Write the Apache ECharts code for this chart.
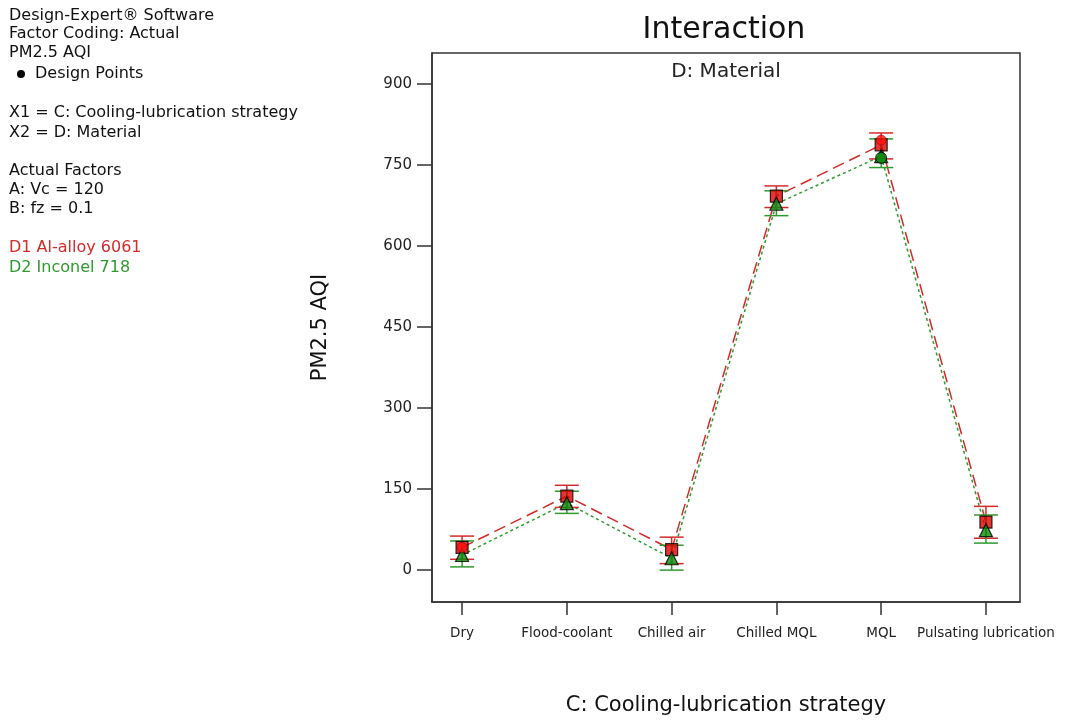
<!DOCTYPE html>
<html><head><meta charset="utf-8">
<script src="https://cdn.jsdelivr.net/npm/echarts@6/dist/echarts.min.js"></script>
<style>html,body{margin:0;padding:0;background:#fff}#c{width:1065px;height:721px}</style>
</head><body><div id="c"></div>
<script>
const categories = ["Dry", "Flood-coolant", "Chilled air", "Chilled MQL", "MQL", "Pulsating lubrication"];
const yTicks = [0, 150, 300, 450, 600, 750, 900];
// D1 Al-alloy 6061 (predicted means and interval bounds)
const d1Mean = [42, 137, 38, 692, 787, 89];
const d1Low  = [20, 116, 12, 671, 761, 59];
const d1High = [63, 157, 61, 711, 809, 118];
// D2 Inconel 718
const d2Mean = [28, 124, 22, 678, 766, 74];
const d2Low  = [6, 105, 0, 656, 745, 50];
const d2High = [54, 146, 46, 702, 798, 102];
// design points (category index, value)
const d1Design = [[0, 42], [4, 796]];
const d2Design = [[4, 763]];

const RED = '#d42a2a', GREEN = '#2f9a2f';
const FONT = '"DejaVu Sans", "Liberation Sans", Arial, sans-serif';
const toXY = arr => arr.map((v, i) => [i, v]);
const toBars = (lo, hi) => lo.map((v, i) => [i, v, hi[i]]);

function errRender(color) {
  return function (params, api) {
    const x = api.value(0);
    const p1 = api.coord([x, api.value(1)]);
    const p2 = api.coord([x, api.value(2)]);
    const hw = 12;
    const st = { stroke: color, lineWidth: 1.5 };
    return { type: 'group', children: [
      { type: 'line', shape: { x1: p1[0], y1: p1[1], x2: p2[0], y2: p2[1] }, style: st },
      { type: 'line', shape: { x1: p1[0] - hw, y1: p1[1], x2: p1[0] + hw, y2: p1[1] }, style: st },
      { type: 'line', shape: { x1: p2[0] - hw, y1: p2[1], x2: p2[0] + hw, y2: p2[1] }, style: st }
    ]};
  };
}

const leftLines = [
  ['Design-Expert® Software', 16, '#111', 9],
  ['Factor Coding: Actual', 34, '#111', 9],
  ['PM2.5 AQI', 53, '#111', 9],
  ['Design Points', 74, '#111', 35],
  ['X1 = C: Cooling-lubrication strategy', 113, '#111', 9],
  ['X2 = D: Material', 133, '#111', 9],
  ['Actual Factors', 171, '#111', 9],
  ['A: Vc = 120', 190, '#111', 9],
  ['B: fz = 0.1', 209, '#111', 9],
  ['D1 Al-alloy 6061', 248, RED, 9],
  ['D2 Inconel 718', 268, GREEN, 9]
];
const graphics = leftLines.map(l => ({
  type: 'text', x: l[3], y: l[1],
  style: { text: l[0], fill: l[2], font: '16px ' + FONT, align: 'left', verticalAlign: 'middle' }
}));
graphics.push({ type: 'circle', shape: { cx: 21, cy: 74, r: 4 }, style: { fill: '#000' } });
graphics.push({ type: 'text', x: 726, y: 72,
  style: { text: 'D: Material', fill: '#222', font: '20px ' + FONT, align: 'center', verticalAlign: 'middle' } });
graphics.push({ type: 'text', x: 724, y: 30,
  style: { text: 'Interaction', fill: '#111', font: '30px ' + FONT, align: 'center', verticalAlign: 'middle' } });

const chart = echarts.init(document.getElementById('c'), null, { renderer: 'canvas' });
chart.setOption({
  animation: false,
  backgroundColor: '#fff',
  grid: { left: 432, top: 53, right: 45, bottom: 118, show: true, borderColor: '#333', borderWidth: 1.5, backgroundColor: 'transparent' },
  xAxis: {
    type: 'value', min: -0.287, max: 5.325,
    name: 'C: Cooling-lubrication strategy', nameLocation: 'middle', nameGap: 93,
    nameTextStyle: { fontFamily: FONT, fontSize: 21, color: '#111' },
    axisLine: { show: true, onZero: false, lineStyle: { color: '#333', width: 1.5 } },
    axisTick: { show: true, customValues: [0, 1, 2, 3, 4, 5], length: 13, lineStyle: { color: '#333', width: 1.5 } },
    axisLabel: { customValues: [0, 1, 2, 3, 4, 5], margin: 24, color: '#222',
      fontFamily: FONT, fontSize: 13.5,
      formatter: v => categories[Math.round(v)] },
    splitLine: { show: false }
  },
  yAxis: {
    type: 'value', min: -59, max: 957,
    name: 'PM2.5 AQI', nameLocation: 'middle', nameGap: 101, nameRotate: 90,
    nameTextStyle: { fontFamily: FONT, fontSize: 21, color: '#111' },
    axisLine: { show: true, onZero: false, lineStyle: { color: '#333', width: 1.5 } },
    axisTick: { show: true, customValues: yTicks, length: 15, lineStyle: { color: '#333', width: 1.5 } },
    axisLabel: { customValues: yTicks, margin: 20, color: '#222',
      fontFamily: FONT, fontSize: 15 },
    splitLine: { show: false }
  },
  graphic: graphics,
  series: [
    { type: 'line', data: toXY(d1Mean), symbol: 'none', z: 3,
      lineStyle: { color: RED, width: 1.5, type: [12, 6] } },
    { type: 'line', data: toXY(d2Mean), symbol: 'none', z: 3,
      lineStyle: { color: GREEN, width: 1.5, type: [3, 3] } },
    { type: 'custom', data: toBars(d1Low, d1High), renderItem: errRender(RED), z: 4 },
    { type: 'custom', data: toBars(d2Low, d2High), renderItem: errRender(GREEN), z: 4 },
    { type: 'scatter', data: toXY(d1Mean), symbol: 'rect', symbolSize: 12, z: 5,
      itemStyle: { color: '#e00000', borderColor: '#000', borderWidth: 1.2 } },
    { type: 'scatter', data: toXY(d2Mean), symbol: 'triangle', symbolSize: 13, z: 6,
      itemStyle: { color: '#0a8a0a', borderColor: '#000', borderWidth: 1.2 } },
    { type: 'scatter', data: d1Design, symbol: 'circle', symbolSize: 10, z: 7,
      itemStyle: { color: '#ff1010', borderColor: '#600', borderWidth: 0.5 } },
    { type: 'scatter', data: d2Design, symbol: 'circle', symbolSize: 11, z: 7,
      itemStyle: { color: '#0a8a0a', borderColor: '#000', borderWidth: 1 } }
  ]
});
</script></body></html>
